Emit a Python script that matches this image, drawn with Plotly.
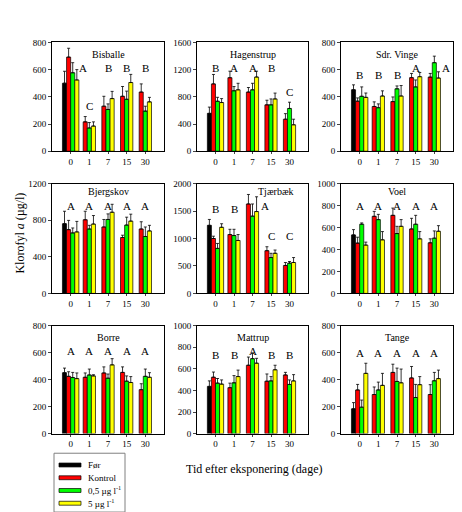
import plotly.graph_objects as go

days = ["0", "1", "7", "15", "30"]
sites = ["Bisballe", "Hagenstrup", "Sdr. Vinge",
         "Bjergskov", "Tjærbæk", "Voel",
         "Borre", "Mattrup", "Tange"]
y_max = [800, 1600, 800, 1200, 2000, 1000, 800, 1000, 800]
y_step = [200, 400, 200, 400, 500, 200, 200, 200, 200]

# "Før" is only measured on day 0
foer = [500, 557, 452, 762, 1240, 533, 452, 438, 184]
foer_se = [88, 92, 36, 136, 107, 48, 34, 51, 46]

kontrol = [[692, 216, 331, 404, 435],
           [990, 1081, 870, 682, 471],
           [368, 329, 365, 541, 545],
           [697, 805, 726, 611, 704],
           [1000, 1072, 1629, 778, 509],
           [458, 702, 711, 587, 461],
           [425, 418, 450, 454, 326],
           [523, 426, 634, 486, 544],
           [324, 290, 454, 413, 290]]
kontrol_se = [[65, 39, 73, 72, 60],
              [139, 96, 67, 68, 82],
              [24, 34, 34, 31, 27],
              [101, 93, 82, 25, 79],
              [42, 96, 173, 72, 54],
              [54, 45, 66, 97, 36],
              [34, 32, 45, 41, 44],
              [48, 42, 76, 67, 24],
              [41, 56, 61, 85, 73]]

lav = [[577, 171, 307, 382, 295],
       [735, 889, 903, 682, 629],
       [404, 320, 459, 473, 651],
       [661, 704, 808, 747, 622],
       [820, 1054, 1407, 653, 551],
       [630, 672, 545, 630, 503],
       [416, 435, 411, 389, 425],
       [468, 471, 695, 489, 456],
       [196, 324, 387, 268, 392]]
lav_se = [[74, 40, 41, 60, 36],
          [58, 62, 96, 87, 92],
          [69, 28, 21, 51, 48],
          [54, 40, 61, 86, 104],
          [90, 114, 222, 78, 30],
          [12, 48, 66, 81, 66],
          [38, 44, 31, 39, 54],
          [43, 67, 48, 40, 42],
          [53, 58, 99, 97, 62]]

hoej = [[524, 185, 387, 505, 363],
        [716, 903, 1091, 769, 389],
        [396, 406, 406, 548, 538],
        [672, 758, 887, 790, 683],
        [1204, 964, 1491, 731, 563],
        [440, 488, 611, 497, 566],
        [408, 428, 510, 379, 418],
        [459, 529, 653, 592, 489],
        [447, 358, 377, 363, 408]]
hoej_se = [[76, 31, 53, 60, 33],
           [58, 96, 86, 86, 82],
           [32, 38, 77, 31, 46],
           [115, 93, 87, 76, 61],
           [65, 108, 269, 59, 90],
           [27, 75, 61, 66, 51],
           [42, 9, 46, 44, 34],
           [39, 60, 45, 42, 58],
           [75, 89, 102, 60, 63]]

letters = [["A", "C", "B", "B", "B"],
           ["B", "A", "A", "B", "C"],
           ["B", "B", "B", "A", "A"],
           ["A", "A", "A", "A", "A"],
           ["B", "B", "A", "C", "C"],
           ["A", "A", "A", "A", "A"],
           ["A", "A", "A", "A", "A"],
           ["B", "B", "A", "B", "B"],
           ["A", "A", "A", "A", "A"]]

series_names = ["Før", "Kontrol", "0,5 µg l<sup>-1</sup>", "5 µg l<sup>-1</sup>"]
colors = ["#000000", "#ff0000", "#00ff00", "#ffff00"]

W, H = 462, 512
col_px = [(44, 156), (189, 300), (333, 445)]
row_px = [(30, 141), (174, 286), (319, 429)]
title_off = [12, 8.5, 11.5]
serif = "Liberation Serif"
bw = 0.22

fig = go.Figure()
annotations = []
shapes = []
layout_axes = {}


def err(se):
    return dict(type="data", array=se, arrayminus=[0] * len(se), symmetric=False,
                color="black", thickness=0.8, width=1.5)


for i, site in enumerate(sites):
    r, c = divmod(i, 3)
    n = i + 1
    xa = "x" if n == 1 else f"x{n}"
    ya = "y" if n == 1 else f"y{n}"
    pos = list(range(len(days)))

    # day 0 holds 4 bars, the other days 3
    traces = [
        ([0], [foer[i]], [foer_se[i]], [-2 * bw]),
        (pos, kontrol[i], kontrol_se[i], [-bw] + [-1.5 * bw] * 4),
        (pos, lav[i], lav_se[i], [0] + [-0.5 * bw] * 4),
        (pos, hoej[i], hoej_se[i], [bw] + [0.5 * bw] * 4),
    ]
    for k, (xs, ys, se, off) in enumerate(traces):
        fig.add_trace(go.Bar(x=xs, y=ys, offset=off, width=bw, name=series_names[k],
                             marker=dict(color=colors[k], line=dict(color="black", width=0.7)),
                             error_y=err(se), showlegend=False,
                             xaxis=xa, yaxis=ya))

    x0, x1 = col_px[c]
    t, b = row_px[r]
    ph = b - t
    layout_axes["xaxis" if n == 1 else f"xaxis{n}"] = dict(
        domain=[x0 / W, x1 / W], anchor=ya, range=[-1, 5],
        tickvals=pos, ticktext=days, ticks="outside", ticklen=2,
        showline=True, linecolor="black", linewidth=1, mirror=True,
        showgrid=False, zeroline=False, tickfont=dict(family=serif, size=9, color="black"))
    layout_axes["yaxis" if n == 1 else f"yaxis{n}"] = dict(
        domain=[1 - b / H, 1 - t / H], anchor=xa, range=[0, y_max[i]], dtick=y_step[i],
        ticks="outside", ticklen=3, showline=True, linecolor="black", linewidth=1,
        mirror=True, showgrid=False, zeroline=False,
        tickfont=dict(family=serif, size=9, color="black"))

    # panel title
    right = site == "Tjærbæk"
    annotations.append(dict(text=site, xref=f"{xa} domain", yref=f"{ya} domain",
                            x=0.88 if right else 0.5, xanchor="right" if right else "center",
                            y=1 - title_off[r] / ph, yanchor="middle", showarrow=False,
                            borderpad=0, font=dict(family=serif, size=10, color="black")))

    # significance letters: same letter shares one level, kept under the title
    tops = []
    for d in range(len(days)):
        g = [kontrol[i][d] + kontrol_se[i][d], lav[i][d] + lav_se[i][d],
             hoej[i][d] + hoej_se[i][d]]
        if d == 0:
            g.append(foer[i] + foer_se[i])
        tops.append(max(g))
    R = y_max[i]
    cap = (ph - title_off[r] - 6.5 - 14.5) / ph * R
    for d in range(len(days)):
        same = [tops[j] for j in range(len(days)) if letters[i][j] == letters[i][d]]
        level = min(max(same) + 0.03 * R, cap)
        beside = tops[d] > level + 0.08 * R
        annotations.append(dict(text=letters[i][d], xref=xa, yref=ya, x=d,
                                y=level, yanchor="bottom", xshift=12 if beside else 0,
                                showarrow=False, borderpad=0,
                                font=dict(family=serif, size=11, color="black")))

annotations.append(dict(text="Klorofyl <i>a</i> (µg/l)", xref="paper", yref="paper",
                        x=12 / W, y=1 - 225 / H, textangle=-90, showarrow=False,
                        xanchor="center", yanchor="middle",
                        font=dict(family=serif, size=12, color="black")))
annotations.append(dict(text="Tid efter eksponering (dage)", xref="paper", yref="paper",
                        x=176 / W, y=1 - 465 / H, xanchor="left", yanchor="middle",
                        showarrow=False, font=dict(family=serif, size=12, color="black")))

# hand-drawn legend box
shapes.append(dict(type="rect", xref="paper", yref="paper",
                   x0=46 / W, x1=117 / W, y0=1 - 509 / H, y1=1 - 449 / H,
                   line=dict(color="#808080", width=1), fillcolor="white"))
for k, name in enumerate(series_names):
    yc = 461 + 13 * k
    shapes.append(dict(type="rect", xref="paper", yref="paper",
                       x0=51 / W, x1=73 / W, y0=1 - (yc + 2) / H, y1=1 - (yc - 2) / H,
                       line=dict(color="black", width=0.7), fillcolor=colors[k]))
    annotations.append(dict(text=name, xref="paper", yref="paper", x=78 / W, y=1 - yc / H,
                            xanchor="left", yanchor="middle", showarrow=False,
                            font=dict(family=serif, size=9, color="black")))

fig.update_layout(**layout_axes)
fig.update_layout(width=W, height=H, margin=dict(l=0, r=0, t=0, b=0),
                  barmode="overlay", plot_bgcolor="white", paper_bgcolor="white",
                  annotations=annotations, shapes=shapes, showlegend=False)
fig.write_html("out.html")
